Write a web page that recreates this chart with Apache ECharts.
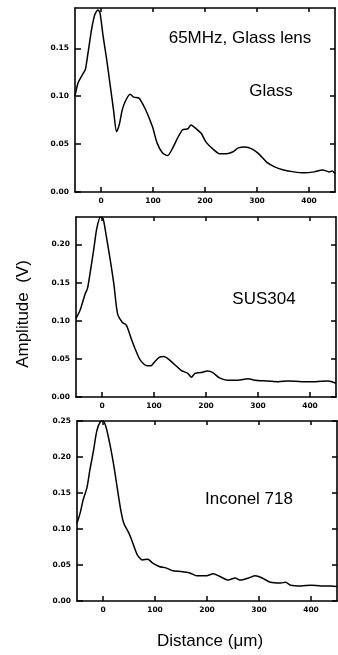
<!DOCTYPE html>
<html>
<head>
<meta charset="utf-8">
<script src="https://cdn.jsdelivr.net/npm/echarts@6/dist/echarts.min.js"></script>
<style>
  html, body { margin: 0; padding: 0; background: #fff; }
  #main { width: 338px; height: 655px; }
</style>
</head>
<body>
<div id="main"></div>
<script>
// distance (um) / amplitude (V)
var glassX = [-50, -44, -34, -30, -25, -18, -12, -6, -2, 4, 11, 17, 24, 30, 35, 41, 48, 56, 63, 73, 82, 89, 99, 108, 118, 128, 137, 147, 157, 167, 173, 183, 193, 202, 215, 228, 241, 254, 264, 277, 290, 303, 319, 335, 351, 371, 390, 410, 426, 439, 445, 450];
var glassY = [0.100, 0.114, 0.124, 0.128, 0.145, 0.170, 0.185, 0.190, 0.187, 0.163, 0.138, 0.114, 0.086, 0.063, 0.070, 0.086, 0.096, 0.102, 0.099, 0.098, 0.090, 0.082, 0.068, 0.051, 0.041, 0.038, 0.045, 0.056, 0.065, 0.066, 0.070, 0.066, 0.061, 0.052, 0.045, 0.040, 0.040, 0.042, 0.046, 0.047, 0.045, 0.040, 0.031, 0.026, 0.023, 0.021, 0.020, 0.021, 0.023, 0.021, 0.022, 0.019];

var susX = [-50, -42, -32, -28, -23, -16, -10, -3, 2, 8, 16, 23, 30, 39, 47, 56, 65, 74, 87, 94, 101, 110, 119, 129, 139, 152, 165, 172, 179, 190, 203, 213, 226, 242, 261, 281, 294, 319, 339, 358, 384, 410, 435, 450];
var susY = [0.103, 0.114, 0.136, 0.142, 0.162, 0.193, 0.221, 0.236, 0.234, 0.212, 0.179, 0.147, 0.109, 0.098, 0.094, 0.077, 0.061, 0.048, 0.041, 0.041, 0.046, 0.052, 0.053, 0.049, 0.043, 0.035, 0.031, 0.026, 0.031, 0.032, 0.034, 0.032, 0.025, 0.022, 0.022, 0.024, 0.022, 0.021, 0.020, 0.021, 0.020, 0.020, 0.021, 0.018];

var incX = [-50, -44, -38, -31, -25, -18, -12, -5, 0, 6, 14, 21, 27, 34, 40, 50, 56, 66, 76, 86, 95, 108, 121, 134, 150, 167, 180, 199, 212, 225, 241, 254, 264, 280, 293, 306, 322, 342, 351, 361, 381, 400, 419, 439, 450];
var incY = [0.108, 0.122, 0.141, 0.157, 0.183, 0.210, 0.236, 0.249, 0.250, 0.241, 0.215, 0.187, 0.159, 0.127, 0.108, 0.094, 0.083, 0.064, 0.057, 0.058, 0.053, 0.048, 0.046, 0.042, 0.041, 0.039, 0.035, 0.035, 0.038, 0.034, 0.029, 0.032, 0.029, 0.032, 0.035, 0.032, 0.026, 0.025, 0.026, 0.022, 0.021, 0.022, 0.021, 0.021, 0.020];

var xTicks = [0, 100, 200, 300, 400];
var yTicks = [
  [0, 0.05, 0.10, 0.15],
  [0, 0.05, 0.10, 0.15, 0.20],
  [0, 0.05, 0.10, 0.15, 0.20, 0.25]
];
var yMax = [0.192, 0.236, 0.25];
var labels = ['65MHz, Glass lens', 'Glass', 'SUS304', 'Inconel 718'];

function pairs(xs, ys) {
  return xs.map(function (x, i) { return [x, ys[i]]; });
}

var tickFont = { fontFamily: 'DejaVu Sans', fontWeight: 'bold', fontSize: 7.5, color: '#000' };
var axLine = { show: true, onZero: false, lineStyle: { color: '#000', width: 1.6 } };

var grids = [
  { left: 75, top: 8, width: 260, height: 184 },
  { left: 76, top: 217, width: 260, height: 180 },
  { left: 77, top: 421, width: 260, height: 180 }
];

var xAxes = [], yAxes = [];
grids.forEach(function (g, i) {
  xAxes.push({
    type: 'value', gridIndex: i, min: -50, max: 450, position: 'bottom',
    axisLine: axLine,
    axisTick: { inside: true, length: 5, customValues: xTicks, lineStyle: { color: '#000', width: 1.5 } },
    axisLabel: Object.assign({ margin: 5, customValues: xTicks }, tickFont),
    splitLine: { show: false }
  });
  xAxes.push({
    type: 'value', gridIndex: i, min: -50, max: 450, position: 'top',
    axisLine: axLine,
    axisTick: { inside: true, length: 4, customValues: xTicks, lineStyle: { color: '#000', width: 1.5 } },
    axisLabel: { show: false },
    splitLine: { show: false }
  });
  yAxes.push({
    type: 'value', gridIndex: i, min: 0, max: yMax[i], position: 'left',
    axisLine: axLine,
    axisTick: { inside: true, length: 6, customValues: yTicks[i], lineStyle: { color: '#000', width: 1.5 } },
    axisLabel: Object.assign({
      margin: 6, customValues: yTicks[i],
      formatter: function (v) { return v.toFixed(2); }
    }, tickFont),
    splitLine: { show: false }
  });
  yAxes.push({
    type: 'value', gridIndex: i, min: 0, max: yMax[i], position: 'right',
    axisLine: axLine,
    axisTick: { inside: true, length: 5, customValues: yTicks[i], lineStyle: { color: '#000', width: 1.5 } },
    axisLabel: { show: false },
    splitLine: { show: false }
  });
});

function line(i, xs, ys) {
  return {
    type: 'line', xAxisIndex: i * 2, yAxisIndex: i * 2,
    data: pairs(xs, ys), showSymbol: false, silent: true, smooth: 0.25,
    lineStyle: { color: '#000', width: 1.5 }
  };
}

var txt = { fontFamily: 'Liberation Sans', fontSize: 17, fill: '#000', textAlign: 'center', textVerticalAlign: 'middle' };

var chart = echarts.init(document.getElementById('main'));
chart.setOption({
  backgroundColor: '#fff',
  animation: false,
  grid: grids,
  xAxis: xAxes,
  yAxis: yAxes,
  series: [line(0, glassX, glassY), line(1, susX, susY), line(2, incX, incY)],
  graphic: [
    { type: 'text', x: 240, y: 38, style: Object.assign({ text: labels[0] }, txt) },
    { type: 'text', x: 271, y: 91, style: Object.assign({ text: labels[1] }, txt) },
    { type: 'text', x: 264, y: 299, style: Object.assign({ text: labels[2] }, txt) },
    { type: 'text', x: 249, y: 499, style: Object.assign({ text: labels[3] }, txt) },
    { type: 'text', x: 23, y: 314, rotation: Math.PI / 2, style: Object.assign({ text: 'Amplitude  (V)' }, txt) },
    { type: 'text', x: 210, y: 641, style: Object.assign({ text: 'Distance (\u03bcm)' }, txt) }
  ]
});
</script>
</body>
</html>
